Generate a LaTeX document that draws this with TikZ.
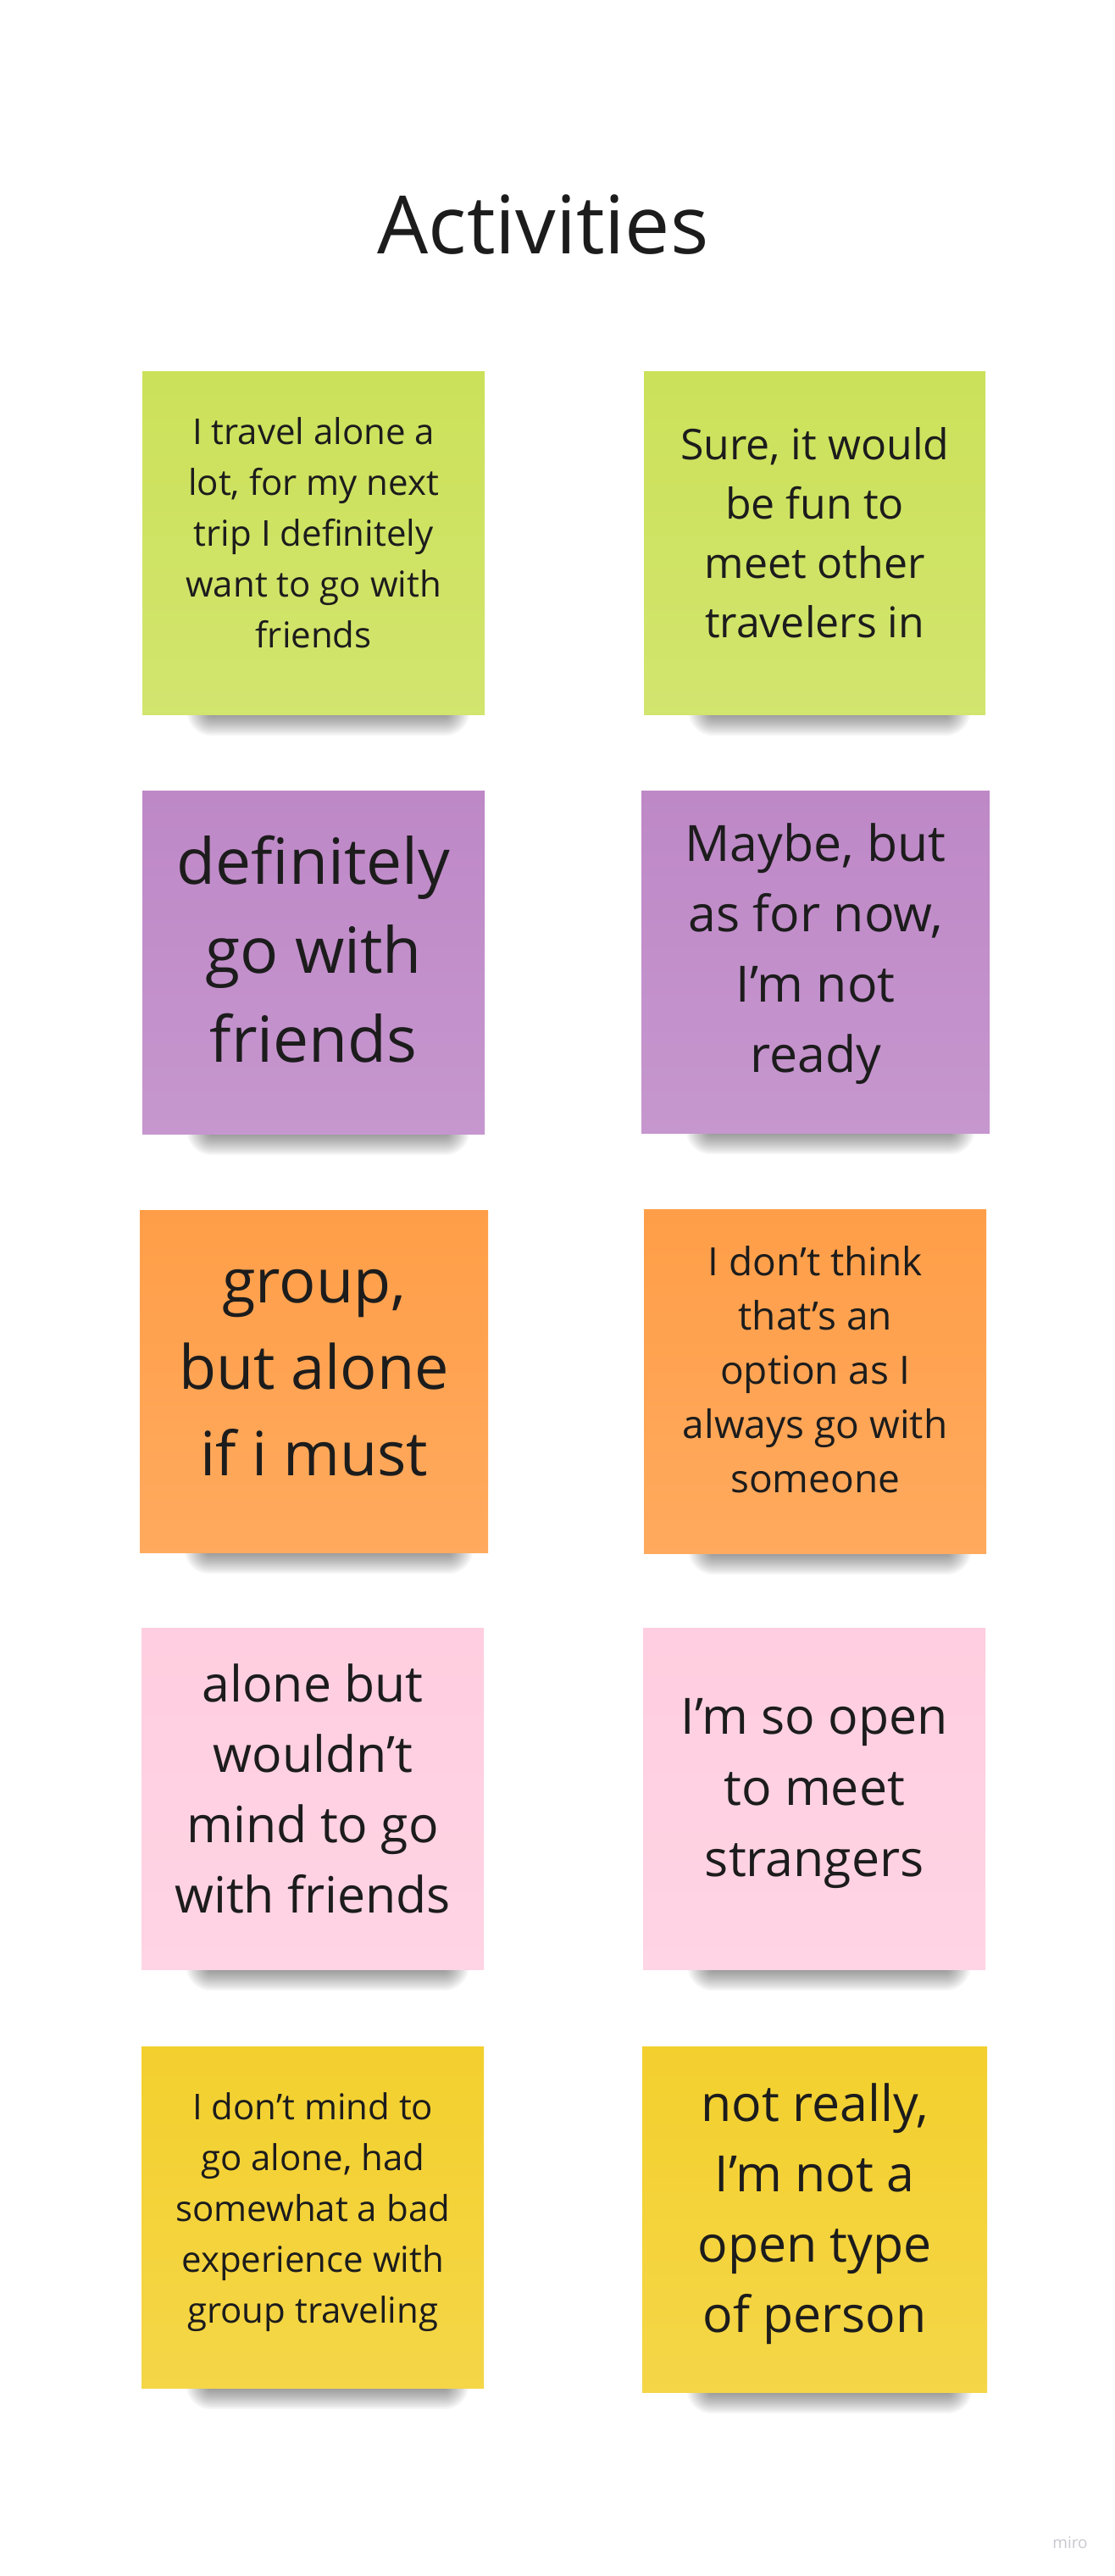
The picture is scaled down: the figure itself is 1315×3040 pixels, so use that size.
\documentclass[tikz,border=0pt]{standalone}
\usepackage{fontspec}
\setmainfont{Open Sans}
\definecolor{nlime}{RGB}{204,225,90}
\definecolor{nviolet}{RGB}{190,136,199}
\definecolor{norange}{RGB}{255,158,72}
\definecolor{npink}{RGB}{255,206,224}
\definecolor{nyellow}{RGB}{243,208,46}
\definecolor{ink}{RGB}{28,28,28}
\definecolor{wmark}{RGB}{200,200,208}
\tikzset{
  notebox/.style={draw=none, rectangle, inner sep=0pt},
  notetext/.style={text=ink, align=center, inner sep=0pt},
  shadowlayer/.style={fill=black, opacity=0.038},
}
% #1 name, #2 x1, #3 y1, #4 x2, #5 y2, #6 colour, #7 {size}{skip}, #8 text lift, #9 text
\newcommand\stickynote[9]{%
  \foreach \k in {0,...,11}{%
    \fill[shadowlayer, rounded corners={(2.5*\k+2)*1pt}] ({#2+80-2.5*\k},{#5-14-2.5*\k}) rectangle ({#4-45+2.5*\k},{#5+1+2.2*\k});
  }
  \node[notebox, top color=#6, bottom color=#6!88!white, minimum width={(#4-#2)*1pt}, minimum height={(#5-#3)*1pt}, anchor=north west] (#1) at (#2,#3) {};
  \node[notetext, font=\fontsize#7\selectfont] (#1t) at ([yshift=#8pt]#1.center) {#9};
}
\begin{document}
\begin{tikzpicture}[x=1pt,y=-1pt]
\useasboundingbox[fill=white] (0,0) rectangle (1315,3040);
\node[text=ink, font=\fontsize{95}{110}\selectfont, anchor=base, inner sep=0pt] (title) at (641,299) {Activities};

\stickynote{n1l}{168}{438}{572}{843}{nlime}{{42}{60}}{12}{I travel alone a\\lot, for my next\\trip I definitely\\want to go with\\friends}
\stickynote{n1r}{760}{438}{1163}{843}{nlime}{{50}{70}}{12}{Sure, it would\\be fun to\\meet other\\travelers in}
\stickynote{n2l}{168}{933}{572}{1338}{nviolet}{{75}{105}}{16}{definitely\\go with\\friends}
\stickynote{n2r}{757}{933}{1168}{1337}{nviolet}{{59}{83}}{10}{Maybe, but\\as for now,\\I’m not\\ready}
\stickynote{n3l}{165}{1428}{576}{1832}{norange}{{72}{102}}{10}{group,\\but alone\\if i must}
\stickynote{n3r}{760}{1427}{1164}{1833}{norange}{{46}{64}}{14}{I don’t think\\that’s an\\option as I\\always go with\\someone}
\stickynote{n4l}{167}{1921}{571}{2324}{npink}{{59}{83}}{12}{alone but\\wouldn’t\\mind to go\\with friends}
\stickynote{n4r}{759}{1921}{1163}{2324}{npink}{{59}{84}}{6}{I’m so open\\to meet\\strangers}
\stickynote{n5l}{167}{2415}{571}{2818}{nyellow}{{42}{60}}{6}{I don’t mind to\\go alone, had\\somewhat a bad\\experience with\\group traveling}
\stickynote{n5r}{758}{2415}{1165}{2823}{nyellow}{{59}{83}}{7}{not really,\\I’m not a\\open type\\of person}

\node[text=wmark, font=\fontsize{19}{22}\selectfont, anchor=base, inner sep=0pt] (miro) at (1263,3007) {miro};
\end{tikzpicture}
\end{document}
